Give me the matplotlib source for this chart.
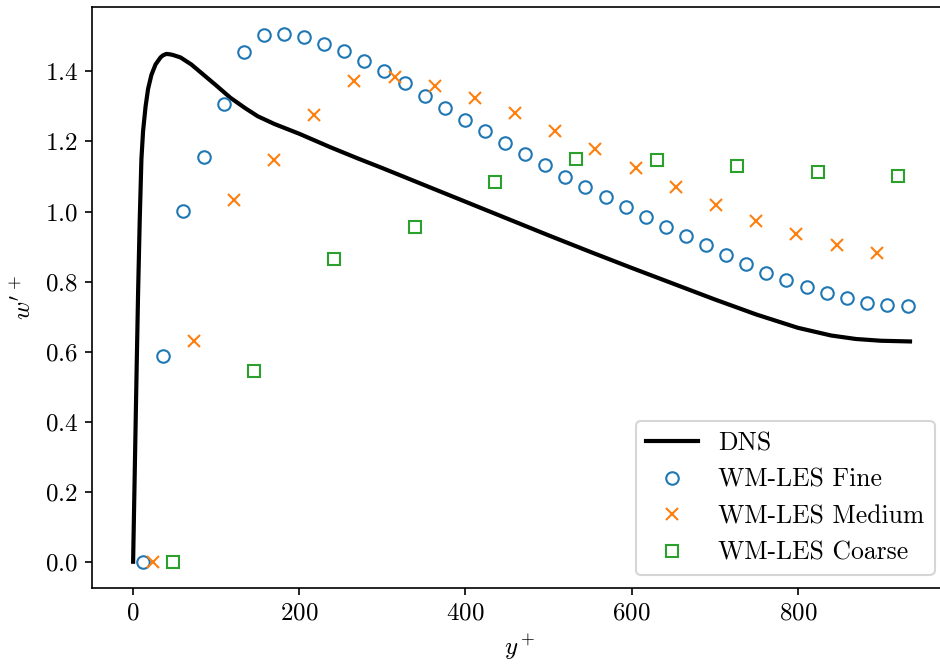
import matplotlib
matplotlib.use('Agg')
import matplotlib.pyplot as plt

plt.rcParams.update({'font.size': 12})
plt.rcParams['font.family'] = 'serif'
plt.rcParams['font.serif'] = ['cmr10']
plt.rcParams['mathtext.fontset'] = 'cm'
plt.rcParams['axes.formatter.use_mathtext'] = True

# DNS profile
dns_y = [0, 2, 4, 6, 8, 10, 12, 15, 18, 22, 27, 33, 36, 40, 44, 48, 57, 70, 85, 100, 117,
         135, 150, 170, 200, 237, 270, 300, 350, 400, 450, 500, 550, 600, 650, 700, 750,
         800, 840, 870, 900, 935]
dns_w = [0, 0.26, 0.52, 0.77, 0.98, 1.15, 1.23, 1.30, 1.35, 1.39, 1.42, 1.44, 1.446, 1.45,
         1.449, 1.447, 1.44, 1.42, 1.39, 1.36, 1.325, 1.295, 1.272, 1.25, 1.222, 1.184,
         1.152, 1.124, 1.076, 1.028, 0.980, 0.932, 0.885, 0.839, 0.794, 0.749, 0.706,
         0.668, 0.646, 0.636, 0.631, 0.629]

# WM-LES fine
fine_y = [12, 36, 60, 85, 109, 133, 157, 181, 206, 230, 254, 278, 302, 327, 351, 375, 399,
          423, 448, 472, 496, 520, 544, 569, 593, 617, 641, 665, 690, 714, 738, 762, 786,
          811, 835, 859, 883, 907, 932]
fine_w = [0, 0.587, 1.001, 1.155, 1.306, 1.455, 1.505, 1.508, 1.498, 1.479, 1.457, 1.431,
          1.400, 1.366, 1.331, 1.296, 1.262, 1.229, 1.197, 1.165, 1.133, 1.100, 1.069, 1.041,
          1.012, 0.984, 0.955, 0.929, 0.903, 0.876, 0.850, 0.825, 0.805, 0.784, 0.768, 0.752,
          0.740, 0.733, 0.729]

# WM-LES medium
med_y = [24, 73, 121, 169, 218, 266, 315, 363, 411, 460, 508, 556, 605, 653, 702, 750, 798,
         847, 895]
med_w = [0, 0.629, 1.034, 1.147, 1.276, 1.372, 1.383, 1.357, 1.323, 1.281, 1.231, 1.179,
         1.125, 1.070, 1.020, 0.974, 0.935, 0.903, 0.881]

# WM-LES coarse
coarse_y = [48, 145, 242, 339, 436, 533, 630, 727, 824, 921]
coarse_w = [0, 0.546, 0.865, 0.955, 1.084, 1.149, 1.147, 1.129, 1.112, 1.102]

fig = plt.figure(figsize=(940 / 150, 664 / 150), dpi=150)
# right spine sits just past the image edge, as in the original crop
ax = fig.add_axes([92.4 / 940, 1 - 588 / 664, 855 / 940, 581 / 664])

ax.plot(dns_y, dns_w, color='k', lw=2, label='DNS')
ax.plot(fine_y, fine_w, 'o', color='C0', mfc='none', label='WM-LES Fine')
ax.plot(med_y, med_w, 'x', color='C1', label='WM-LES Medium')
ax.plot(coarse_y, coarse_w, 's', color='C2', mfc='none', label='WM-LES Coarse')

ax.set_xlim(-49, 980)
ax.set_ylim(-0.075, 1.584)
ax.set_xlabel(r'$y^+$')
ax.set_ylabel(r"$w'^+$")
ax.legend(loc='lower right', fontsize=12.3)

fig.savefig('out.png', dpi=150)
